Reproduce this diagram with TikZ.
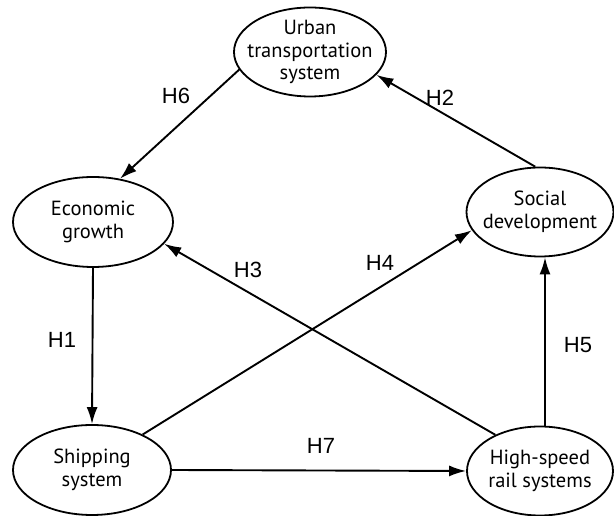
\documentclass[tikz,border=0pt]{standalone}
\usepackage{fontspec}
\setmainfont{PT Sans}
\newfontfamily\lblfont{Liberation Sans}
\usetikzlibrary{shapes.geometric,arrows.meta}
\begin{document}
\begin{tikzpicture}[x=1pt,y=1pt,
  ell/.style={draw,ellipse,line width=1.8pt,inner sep=-12pt,align=center,font=\fontsize{20.5}{22.5}\selectfont},
  arr/.style={line width=1.9pt,-{Latex[length=17pt,width=11pt]}},
  lbl/.style={font=\lblfont\fontsize{22}{26}\selectfont}]
\useasboundingbox (0,0) rectangle (614,516);
\node[ell,minimum width=152pt,minimum height=89pt] (urb) at (310,464) {Urban\\transportation\\system};
\node[ell,minimum width=160pt,minimum height=90pt] (eco) at (93,294) {Economic\\growth};
\node[ell,minimum width=147pt,minimum height=89pt] (soc) at (540,304) {Social\\development};
\node[ell,minimum width=158pt,minimum height=90pt] (shp) at (92,46) {Shipping\\system};
\node[ell,minimum width=146pt,minimum height=89pt] (hsr) at (540,45) {High-speed\\rail systems};
\draw[arr] (urb.194) -- (eco.58);
\draw[arr] (soc.96) -- (urb.-19);
\draw[arr] (eco.south) -- (shp.north);
\draw[arr] (hsr.141) -- (eco.-17);
\draw[arr] (shp.35) -- (soc.195);
\draw[arr] ([xshift=5pt]hsr.north) -- ([xshift=5pt]soc.south);
\draw[arr] (shp.east) -- (hsr.west);
\node[lbl] (h6) at (176,420) {H6};
\node[lbl] (h2) at (440,418) {H2};
\node[lbl] (h1) at (62,176) {H1};
\node[lbl] (h3) at (248,246) {H3};
\node[lbl] (h4) at (380,253) {H4};
\node[lbl] (h5) at (578,171) {H5};
\node[lbl] (h7) at (321,70) {H7};
\end{tikzpicture}
\end{document}
